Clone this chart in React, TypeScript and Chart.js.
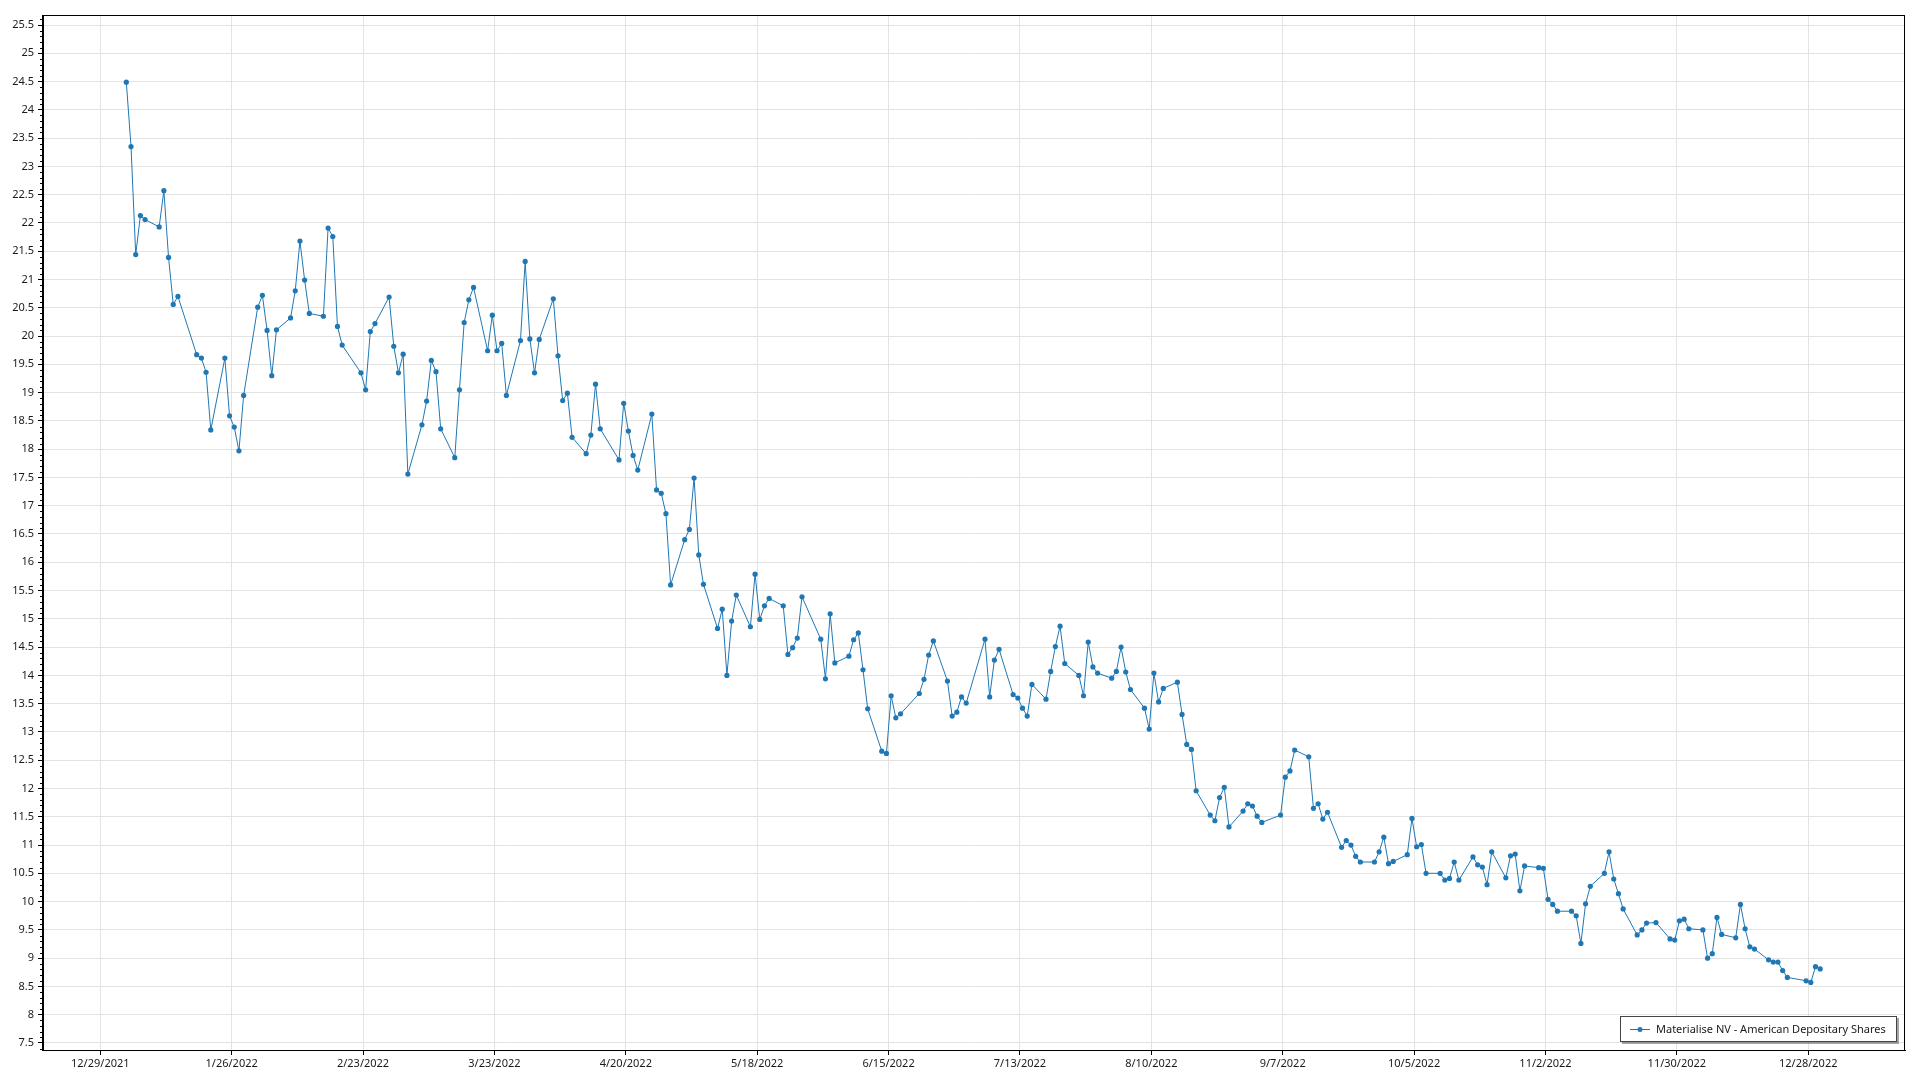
import React, { useEffect, useRef } from "react";
import { Chart, registerables } from "chart.js";

Chart.register(...registerables);

const SERIES_NAME = "Materialise NV - American Depositary Shares";
const SERIES_COLOR = "#1f77b4";
const YEAR = 2022;
const SAMPLE_HOUR = 13.2; // time of day of each sample

// trading days of each month of 2022
const janDays = [3, 4, 5, 6, 7, 10, 11, 12, 13, 14, 18, 19, 20, 21, 24, 25, 26, 27, 28, 31];
const febDays = [1, 2, 3, 4, 7, 8, 9, 10, 11, 14, 15, 16, 17, 18, 22, 23, 24, 25, 28];
const marDays = [1, 2, 3, 4, 7, 8, 9, 10, 11, 14, 15, 16, 17, 18, 21, 22, 23, 24, 25, 28, 29, 30, 31];
const aprDays = [1, 4, 5, 6, 7, 8, 11, 12, 13, 14, 18, 19, 20, 21, 22, 25, 26, 27, 28, 29];
const mayDays = [2, 3, 4, 5, 6, 9, 10, 11, 12, 13, 16, 17, 18, 19, 20, 23, 24, 25, 26, 27, 31];
const junDays = [1, 2, 3, 6, 7, 8, 9, 10, 13, 14, 15, 16, 17, 21, 22, 23, 24, 27, 28, 29, 30];
const julDays = [1, 5, 6, 7, 8, 11, 12, 13, 14, 15, 18, 19, 20, 21, 22, 25, 26, 27, 28, 29];
const augDays = [1, 2, 3, 4, 5, 8, 9, 10, 11, 12, 15, 16, 17, 18, 19, 22, 23, 24, 25, 26, 29, 30, 31];
const sepDays = [1, 2, 6, 7, 8, 9, 12, 13, 14, 15, 16, 19, 20, 21, 22, 23, 26, 27, 28, 29, 30];
const octDays = [3, 4, 5, 6, 7, 10, 11, 12, 13, 14, 17, 18, 19, 20, 21, 24, 25, 26, 27, 28, 31];
const novDays = [1, 2, 3, 4, 7, 8, 9, 10, 11, 14, 15, 16, 17, 18, 21, 22, 23, 25, 28, 29, 30];
const decDays = [1, 2, 5, 6, 7, 8, 9, 12, 13, 14, 15, 16, 19, 20, 21, 22, 23, 27, 28, 29, 30];

// closing prices
const janValues = [24.49, 23.35, 21.44, 22.13, 22.06, 21.93, 22.57, 21.39, 20.56, 20.70, 19.67, 19.61, 19.36, 18.34, 19.61, 18.59, 18.39, 17.97, 18.95, 20.51];
const febValues = [20.72, 20.10, 19.30, 20.11, 20.32, 20.80, 21.68, 20.99, 20.40, 20.35, 21.91, 21.76, 20.17, 19.84, 19.35, 19.05, 20.08, 20.22, 20.69];
const marValues = [19.82, 19.35, 19.68, 17.56, 18.43, 18.85, 19.57, 19.37, 18.36, 17.85, 19.05, 20.24, 20.64, 20.86, 19.74, 20.37, 19.74, 19.87, 18.95, 19.92, 21.32, 19.95, 19.35];
const aprValues = [19.94, 20.66, 19.65, 18.86, 18.99, 18.21, 17.92, 18.25, 19.15, 18.36, 17.81, 18.81, 18.32, 17.89, 17.63, 18.62, 17.28, 17.22, 16.86, 15.60];
const mayValues = [16.40, 16.58, 17.49, 16.13, 15.61, 14.83, 15.17, 14.00, 14.96, 15.42, 14.86, 15.79, 14.99, 15.23, 15.36, 15.23, 14.37, 14.49, 14.66, 15.39, 14.64];
const junValues = [13.94, 15.09, 14.22, 14.34, 14.63, 14.75, 14.10, 13.41, 12.66, 12.62, 13.64, 13.25, 13.32, 13.68, 13.93, 14.36, 14.61, 13.90, 13.28, 13.35, 13.62];
const julValues = [13.51, 14.64, 13.62, 14.27, 14.46, 13.66, 13.60, 13.42, 13.28, 13.84, 13.58, 14.07, 14.51, 14.87, 14.21, 14.00, 13.64, 14.59, 14.15, 14.04];
const augValues = [13.95, 14.07, 14.50, 14.06, 13.75, 13.42, 13.05, 14.04, 13.53, 13.77, 13.88, 13.31, 12.78, 12.69, 11.96, 11.53, 11.43, 11.84, 12.02, 11.32, 11.60, 11.73, 11.69];
const sepValues = [11.51, 11.40, 11.53, 12.20, 12.31, 12.68, 12.56, 11.65, 11.73, 11.46, 11.58, 10.96, 11.08, 11.00, 10.80, 10.70, 10.70, 10.88, 11.14, 10.67, 10.71];
const octValues = [10.83, 11.47, 10.97, 11.01, 10.50, 10.50, 10.38, 10.41, 10.70, 10.38, 10.79, 10.65, 10.61, 10.30, 10.88, 10.42, 10.81, 10.84, 10.19, 10.63, 10.60];
const novValues = [10.59, 10.04, 9.95, 9.83, 9.83, 9.75, 9.26, 9.96, 10.27, 10.50, 10.88, 10.40, 10.14, 9.87, 9.41, 9.50, 9.62, 9.63, 9.34, 9.32, 9.66];
const decValues = [9.69, 9.52, 9.50, 9.00, 9.08, 9.72, 9.42, 9.36, 9.95, 9.52, 9.20, 9.16, 8.97, 8.93, 8.93, 8.78, 8.66, 8.60, 8.57, 8.85, 8.81];

const monthDays = [janDays, febDays, marDays, aprDays, mayDays, junDays, julDays, augDays, sepDays, octDays, novDays, decDays];
const monthValues = [janValues, febValues, marValues, aprValues, mayValues, junValues, julValues, augValues, sepValues, octValues, novValues, decValues];

// axis ticks
const xTickDates = ["2021-12-29", "2022-01-26", "2022-02-23", "2022-03-23", "2022-04-20", "2022-05-18", "2022-06-15", "2022-07-13", "2022-08-10", "2022-09-07", "2022-10-05", "2022-11-02", "2022-11-30", "2022-12-28"];
const yTicks = [7.5, 8, 8.5, 9, 9.5, 10, 10.5, 11, 11.5, 12, 12.5, 13, 13.5, 14, 14.5, 15, 15.5, 16, 16.5, 17, 17.5, 18, 18.5, 19, 19.5, 20, 20.5, 21, 21.5, 22, 22.5, 23, 23.5, 24, 24.5, 25, 25.5];
const X_MIN_DATE = "2021-12-16T19:00";
const X_MAX_DATE = "2023-01-17T15:00";
const Y_MIN = 7.376;
const Y_MAX = 25.677;

const DAY = 86400000;
const toDays = (iso: string) => {
  const [d, t] = iso.split("T");
  const [y, m, dd] = d.split("-").map(Number);
  let h = 0, mi = 0;
  if (t) [h, mi] = t.split(":").map(Number);
  return Date.UTC(y, m - 1, dd, h, mi) / DAY;
};
const BASE = toDays(xTickDates[0]);
const fmtDate = (offset: number) => {
  const dt = new Date(Math.round(offset + BASE) * DAY);
  return `${dt.getUTCMonth() + 1}/${dt.getUTCDate()}/${dt.getUTCFullYear()}`;
};

const FONT = '"Noto Sans", "Open Sans", sans-serif';

const framePlugin = {
  id: "framePlugin",
  afterDraw(chart: any) {
    const { ctx, chartArea: a, scales } = chart;
    const ys = scales.y;
    ctx.save();
    // minor y ticks
    ctx.strokeStyle = "#000";
    ctx.lineWidth = 1;
    ctx.beginPath();
    for (let k = Math.ceil(ys.min * 10); k <= Math.floor(ys.max * 10); k++) {
      if (k % 5 === 0) continue;
      const py = Math.round(ys.getPixelForValue(k / 10)) + 0.5;
      ctx.moveTo(a.left - 3, py);
      ctx.lineTo(a.left, py);
    }
    ctx.stroke();
    // frame
    ctx.strokeRect(Math.round(a.left) - 0.5, Math.round(a.top) + 0.5, Math.round(a.right - a.left), Math.round(a.bottom - a.top));

    // legend
    ctx.font = `11px ${FONT}`;
    const tw = ctx.measureText(SERIES_NAME).width;
    const boxW = Math.round(10 + 20 + 6 + tw + 11);
    const boxH = 26;
    const bx = Math.round(a.right - 8 - boxW);
    const by = Math.round(a.bottom - 8 - boxH);
    ctx.fillStyle = "rgba(0,0,0,0.35)";
    ctx.fillRect(bx + 2, by + 2, boxW, boxH);
    ctx.fillStyle = "#fff";
    ctx.fillRect(bx, by, boxW, boxH);
    ctx.strokeStyle = "#444";
    ctx.lineWidth = 1;
    ctx.strokeRect(bx + 0.5, by + 0.5, boxW - 1, boxH - 1);
    const sy = by + boxH / 2;
    ctx.strokeStyle = SERIES_COLOR;
    ctx.beginPath();
    ctx.moveTo(bx + 10, Math.round(sy) + 0.5);
    ctx.lineTo(bx + 30, Math.round(sy) + 0.5);
    ctx.stroke();
    ctx.fillStyle = SERIES_COLOR;
    ctx.beginPath();
    ctx.arc(bx + 20, Math.round(sy) + 0.5, 2.5, 0, Math.PI * 2);
    ctx.fill();
    ctx.fillStyle = "#1a1a1a";
    ctx.textBaseline = "middle";
    ctx.textAlign = "left";
    ctx.fillText(SERIES_NAME, bx + 36, sy + 0.5);
    ctx.restore();
  },
};

export default function App() {
  const ref = useRef<HTMLCanvasElement | null>(null);

  useEffect(() => {
    document.body.style.margin = "0";
    const points: { x: number; y: number }[] = [];
    monthDays.forEach((days, mi) => {
      days.forEach((d, i) => {
        const iso = `${YEAR}-${String(mi + 1).padStart(2, "0")}-${String(d).padStart(2, "0")}`;
        points.push({ x: toDays(iso) - BASE + SAMPLE_HOUR / 24, y: monthValues[mi][i] });
      });
    });
    const xTickVals = xTickDates.map((s) => toDays(s) - BASE);

    const chart = new Chart(ref.current as HTMLCanvasElement, {
      type: "line",
      data: {
        datasets: [
          {
            label: SERIES_NAME,
            data: points,
            borderColor: SERIES_COLOR,
            backgroundColor: SERIES_COLOR,
            borderWidth: 1,
            pointRadius: 2.6,
            pointBorderWidth: 0,
            pointBackgroundColor: SERIES_COLOR,
            tension: 0,
          },
        ],
      },
      plugins: [framePlugin],
      options: {
        animation: false,
        responsive: false,
        events: [],
        layout: { padding: { top: 15, right: 15, left: 0, bottom: 0 } },
        plugins: { legend: { display: false }, tooltip: { enabled: false } },
        scales: {
          x: {
            type: "linear",
            min: toDays(X_MIN_DATE) - BASE,
            max: toDays(X_MAX_DATE) - BASE,
            afterBuildTicks: (scale: any) => {
              scale.ticks = xTickVals.map((v) => ({ value: v }));
            },
            afterFit: (scale: any) => {
              scale.height = 30;
            },
            grid: { color: "#e3e3e3", tickColor: "#000", tickLength: 5, lineWidth: 1 },
            border: { color: "#000", width: 1 },
            ticks: {
              autoSkip: false,
              maxRotation: 0,
              padding: 2,
              color: "#1a1a1a",
              font: { family: FONT, size: 11 },
              callback: (v: any) => fmtDate(Number(v)),
            },
          },
          y: {
            type: "linear",
            min: Y_MIN,
            max: Y_MAX,
            afterBuildTicks: (scale: any) => {
              scale.ticks = yTicks.map((v) => ({ value: v }));
            },
            afterFit: (scale: any) => {
              scale.width = 43;
            },
            grid: { color: "#e3e3e3", tickColor: "#000", tickLength: 5, lineWidth: 1 },
            border: { color: "#000", width: 1 },
            ticks: {
              autoSkip: false,
              padding: 4,
              color: "#1a1a1a",
              font: { family: FONT, size: 11 },
              callback: (v: any) => String(v),
            },
          },
        },
      },
    } as any);
    return () => chart.destroy();
  }, []);

  return (
    <div style={{ position: "absolute", left: 0, top: 0, width: 1920, height: 1080, background: "#fff" }}>
      <canvas ref={ref} width={1920} height={1080} style={{ display: "block" }} />
    </div>
  );
}
